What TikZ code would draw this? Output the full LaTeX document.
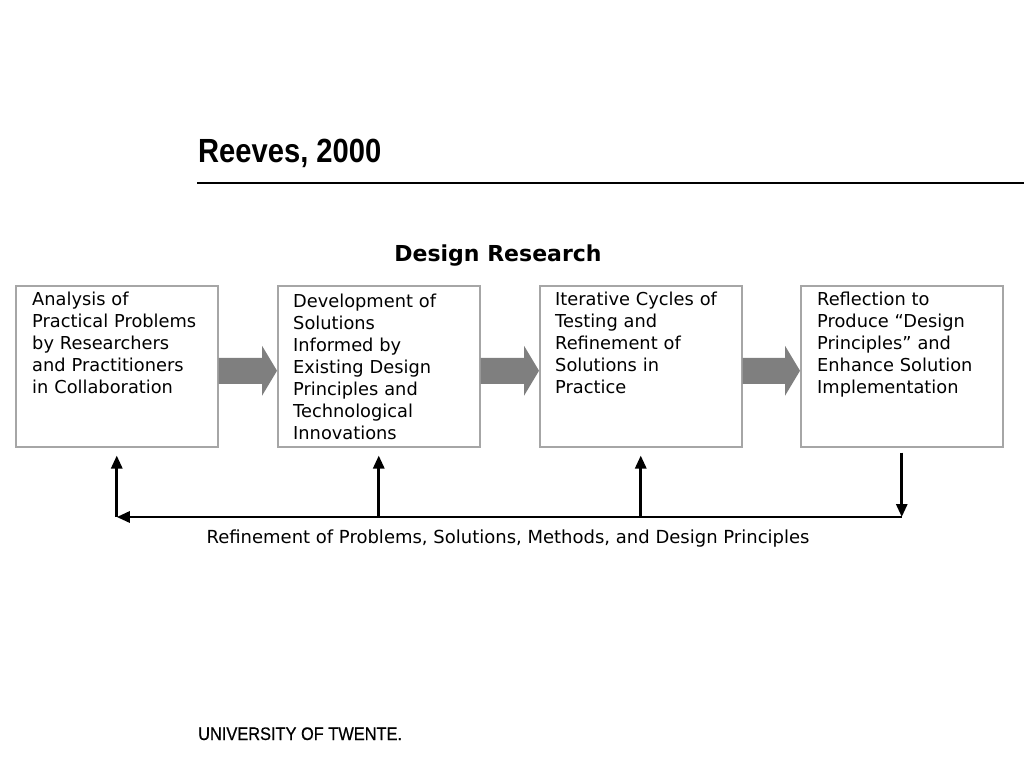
\documentclass[tikz,border=0pt]{standalone}
\usepackage{fontspec}
\setmainfont{DejaVu Sans}
\newfontfamily\titlefont[FakeStretch=0.87]{Liberation Sans}
\newfontfamily\unifont[FakeStretch=0.9,FakeBold=0.6]{Liberation Sans}
\usetikzlibrary{arrows.meta,calc}
\definecolor{boxgray}{HTML}{A6A6A6}
\definecolor{flowgray}{HTML}{7F7F7F}
\begin{document}
\begin{tikzpicture}[x=1pt, y=-1pt,
		stage/.style={draw=boxgray, line width=1.5pt, minimum width=202pt, minimum height=161pt, inner sep=0pt, anchor=north west},
		stagetext/.style={anchor=base west, inner sep=0pt, align=left, text width=190pt, font=\fontsize{17.8}{22}\selectfont},
		loop/.style={line width=2.8pt, -{Triangle[length=13pt,width=11pt]}}]
	\useasboundingbox (0,0) rectangle (1024,768);
	\node[anchor=base west, inner sep=0pt, font=\titlefont\bfseries\fontsize{33.5}{40}\selectfont] (title) at (198,162) {Reeves, 2000};
	\draw[line width=1.3pt] (197,183) -- (1024,183);
	\node[anchor=base, font=\bfseries\fontsize{22}{26}\selectfont] (head) at (498,261) {Design Research};
	\foreach \n/\x in {1/15, 2/277, 3/539, 4/800}
		\node[stage] (b\n) at (\x,285) {};
	\node[stagetext] (t1) at ($(b1.north west)+(17,20)$) {Analysis of\\Practical Problems\\by Researchers\\and Practitioners\\in Collaboration};
	\node[stagetext] (t2) at ($(b2.north west)+(16,22)$) {Development of\\Solutions\\Informed by\\Existing Design\\Principles and\\Technological\\Innovations};
	\node[stagetext] (t3) at ($(b3.north west)+(16,20)$) {Iterative Cycles of\\Testing and\\Refinement of\\Solutions in\\Practice};
	\node[stagetext] (t4) at ($(b4.north west)+(17,20)$) {Reflection to\\Produce “Design\\Principles” and\\Enhance Solution\\Implementation};
	\foreach \a/\b in {b1/b2, b2/b3, b3/b4}
		\fill[flowgray] ($(\a.east)+(0,-8.5)$) -- ($(\b.west)+(-15,-8.5)$) -- ($(\b.west)+(-15,-20.5)$) -- ($(\b.west)+(0,4.5)$)
			-- ($(\b.west)+(-15,29.5)$) -- ($(\b.west)+(-15,17.5)$) -- ($(\a.east)+(0,17.5)$) -- cycle;
	\coordinate (base) at (0,517);
	\draw[loop] ($(b4.south)+(0,5)$) -- (b4.south |- base);
	\draw[loop] (b4.south |- base) -- (b1.south |- base);
	\foreach \n in {1, 2, 3}
		\draw[loop] (b\n.south |- base) -- ($(b\n.south)+(0,8)$);
	\node[anchor=base, font=\fontsize{18}{22}\selectfont] (caption) at (508,543) {Refinement of Problems, Solutions, Methods, and Design Principles};
	\node[anchor=base west, inner sep=0pt, font=\unifont\fontsize{18.2}{22}\selectfont] (uni) at (198,740) {UNIVERSITY OF TWENTE.};
\end{tikzpicture}
\end{document}
